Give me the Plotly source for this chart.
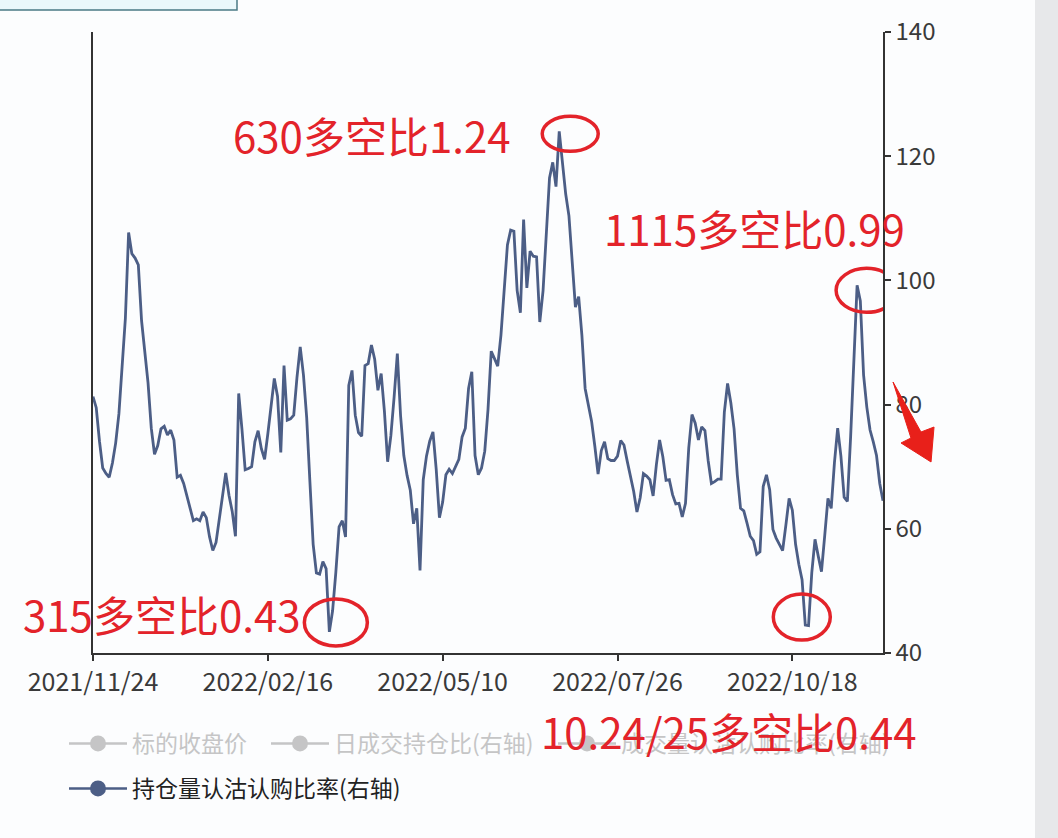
import plotly.graph_objects as go

# ---------------- data ----------------
tick_idx = [0, 54, 108, 162, 216]
tick_labels = ["2021/11/24", "2022/02/16", "2022/05/10", "2022/07/26", "2022/10/18"]

# 持仓量认沽认购比率 (x100), one value per trading day from 2021/11/24 to 2022/11/25
put_call_oi = [
    81.3, 79.5, 74.1, 69.8, 68.9, 68.3, 70.6, 73.8, 78.5, 86.2,
    93.9, 107.7, 104.3, 103.6, 102.5, 93.5, 88.1, 83.5, 76.2, 72.0,
    73.4, 76.1, 76.5, 75.1, 75.9, 74.3, 68.3, 68.6, 67.3, 65.4,
    63.3, 61.3, 61.6, 61.3, 62.7, 61.8, 58.7, 56.5, 57.8, 61.8,
    65.1, 69.0, 65.4, 62.8, 58.8, 81.8, 76.1, 69.5, 69.7, 70.0,
    74.0, 75.8, 72.9, 71.2, 75.3, 79.9, 84.2, 81.3, 72.3, 86.3,
    77.5, 77.7, 78.3, 84.4, 89.3, 84.8, 77.9, 67.5, 57.5, 52.9,
    52.7, 54.7, 53.6, 43.4, 46.8, 53.0, 60.3, 61.3, 58.7, 83.1,
    85.5, 78.3, 75.5, 74.9, 86.3, 86.6, 89.6, 87.3, 82.3, 85.0,
    79.0, 70.8, 75.0, 81.2, 88.2, 78.2, 71.8, 68.6, 66.2, 60.8,
    63.3, 53.3, 67.9, 71.7, 74.1, 75.6, 69.6, 61.8, 64.3, 68.7,
    69.6, 68.9, 70.1, 71.2, 74.8, 76.2, 82.6, 85.3, 71.8, 68.7,
    69.8, 72.5, 79.2, 88.6, 87.4, 86.2, 91.2, 98.0, 105.7, 108.1,
    107.9, 98.4, 94.8, 109.8, 98.8, 104.7, 103.9, 103.8, 93.3, 98.3,
    107.6, 116.5, 119.0, 115.1, 124.0, 119.3, 113.9, 110.4, 103.3, 95.7,
    97.4, 91.2, 82.6, 79.7, 77.3, 73.3, 68.8, 72.6, 74.0, 71.3,
    71.0, 71.0, 71.7, 74.2, 73.5, 70.9, 68.4, 66.0, 62.7, 65.0,
    68.9, 68.5, 67.9, 65.3, 70.3, 74.3, 71.6, 67.8, 67.9, 65.5,
    64.0, 64.1, 61.9, 64.1, 73.0, 78.4, 77.0, 74.3, 76.4, 75.8,
    71.0, 67.3, 67.6, 68.0, 68.0, 78.8, 83.4, 80.3, 76.1, 68.7,
    63.3, 62.9, 60.9, 58.8, 58.1, 55.9, 56.3, 66.8, 68.7, 66.3,
    59.9, 58.5, 57.5, 56.5, 60.6, 64.9, 63.0, 57.5, 54.3, 51.8,
    44.5, 44.4, 52.9, 58.3, 55.6, 53.1, 58.9, 64.9, 63.3, 70.6,
    76.2, 71.7, 65.1, 64.4, 74.8, 86.1, 99.2, 96.7, 84.8, 79.6,
    75.9, 74.0, 71.8, 67.3, 64.5,
]
day_idx = list(range(len(put_call_oi)))

hidden_series = ["标的收盘价", "日成交持仓比(右轴)", "成交量认沽认购比率(右轴)"]
main_series = "持仓量认沽认购比率(右轴)"

# annotated points: (text, trading-day index)
notes = [
    ("630多空比1.24", 144),
    ("315多空比0.43", 73),
    ("10.24/25多空比0.44", 220),
    ("1115多空比0.99", 236),
]

# ---------------- layout helpers ----------------
W, H = 1058, 838
PL, PR, PT, PB = 93, 883, 32, 653


def px(x):
    return (x - PL) / (PR - PL)


def py(y):
    return (PB - y) / (PB - PT)


LINE_C = "#4c5e86"
RED = "#e3232a"
CJK = "Noto Sans CJK SC"
ITEMW = 58

fig = go.Figure()

hidden_legends = ["legend", "legend3", "legend4"]
hidden_legend_x = [64, 266, 553]
for name, lg in zip(hidden_series, hidden_legends):
    fig.add_trace(go.Scatter(
        x=[None], y=[None], name=name, mode="lines+markers",
        line=dict(color="#8f8f8f", width=2.5),
        marker=dict(color="#8f8f8f", size=16),
        visible="legendonly", legend=lg))

fig.add_trace(go.Scatter(
    x=day_idx, y=put_call_oi, mode="lines", name=main_series,
    line=dict(color=LINE_C, width=2.8), showlegend=False,
    legendgroup="main", hoverinfo="y"))
fig.add_trace(go.Scatter(
    x=[None], y=[None], mode="lines+markers", name=main_series,
    line=dict(color=LINE_C, width=2.5), marker=dict(color=LINE_C, size=16),
    legend="legend2", legendgroup="main"))

# ellipses around annotated points (pixel offsets relative to the data point)
ell_offsets = {
    144: (-17, 39, -20, 15),
    73: (-25, 38, -14, 33),
    220: (-32, 25, -15, 31),
    236: (-21, 40, -27, 17),
}
shapes = []
for _, i in notes:
    x0, x1, y0, y1 = ell_offsets[i]
    shapes.append(dict(
        type="circle", xref="x", yref="y", xsizemode="pixel", ysizemode="pixel",
        xanchor=day_idx[i], yanchor=put_call_oi[i], x0=x0, x1=x1, y0=y0, y1=y1,
        line=dict(color=RED, width=3.5), fillcolor="rgba(0,0,0,0)"))

# red arrow on the right
arrow_pts = [(893, 382), (921, 432), (934, 427), (931, 462), (901, 443), (911, 438)]
path = "M " + " L ".join(f"{px(a):.4f},{py(b):.4f}" for a, b in arrow_pts) + " Z"
shapes.append(dict(type="path", xref="paper", yref="paper", path=path,
                   fillcolor="#e8201a", line=dict(color="#e8201a", width=1)))

# top-left UI box and right grey strip
shapes.append(dict(type="rect", xref="paper", yref="paper",
                   x0=px(-6), x1=px(237), y0=py(10), y1=py(-6),
                   fillcolor="#eaf8fb", line=dict(color="#4a7a85", width=1.5), layer="below"))
shapes.append(dict(type="rect", xref="paper", yref="paper",
                   x0=px(1035), x1=px(1062), y0=py(842), y1=py(-4),
                   fillcolor="#e7e8ea", line=dict(width=0), layer="below"))

note_pos = {
    144: (231, 135),
    73: (21, 613),
    220: (539, 730),
    236: (602, 228),
}
annotations = []
for text, i in notes:
    ax, ay = note_pos[i]
    annotations.append(dict(
        text=text, xref="paper", yref="paper", x=px(ax), y=py(ay),
        xanchor="left", yanchor="middle", showarrow=False,
        font=dict(family=CJK, size=42, color=RED)))

legend_common = dict(orientation="h", xanchor="left", yanchor="top",
                     itemwidth=ITEMW, bgcolor="rgba(0,0,0,0)")
legends = {}
for lg, lx in zip(hidden_legends, hidden_legend_x):
    legends[lg] = dict(legend_common, x=px(lx), y=py(722),
                       font=dict(family=CJK, size=23, color="#8f8f8f"))
legends["legend2"] = dict(legend_common, x=px(64), y=py(767),
                          font=dict(family=CJK, size=23, color="#222"))

fig.update_layout(
    width=W, height=H,
    margin=dict(l=PL, r=W - PR, t=PT, b=H - PB),
    paper_bgcolor="#fcfdfe", plot_bgcolor="#fcfdfe",
    font=dict(family=CJK, color="#333"),
    xaxis=dict(
        range=[0, len(put_call_oi) - 1], tickvals=tick_idx, ticktext=tick_labels,
        ticks="outside", ticklen=6, tickwidth=1.5, tickcolor="#333",
        showline=True, linecolor="#333", linewidth=1.5,
        showgrid=False, zeroline=False,
        tickfont=dict(family=CJK, size=25, color="#3a3a3a")),
    yaxis=dict(
        side="right", range=[40, 140], dtick=20, tick0=40,
        ticks="outside", ticklen=6, tickwidth=1.5, tickcolor="#333",
        showline=True, mirror=True, linecolor="#333", linewidth=1.5,
        showgrid=False, zeroline=False,
        tickfont=dict(family=CJK, size=24, color="#3a3a3a")),
    shapes=shapes,
    annotations=annotations,
    showlegend=True,
    **legends,
)

fig.write_html(
    "out.html",
    config={"displayModeBar": False},
    post_script="document.body.style.margin='0';document.body.style.padding='0';",
)
